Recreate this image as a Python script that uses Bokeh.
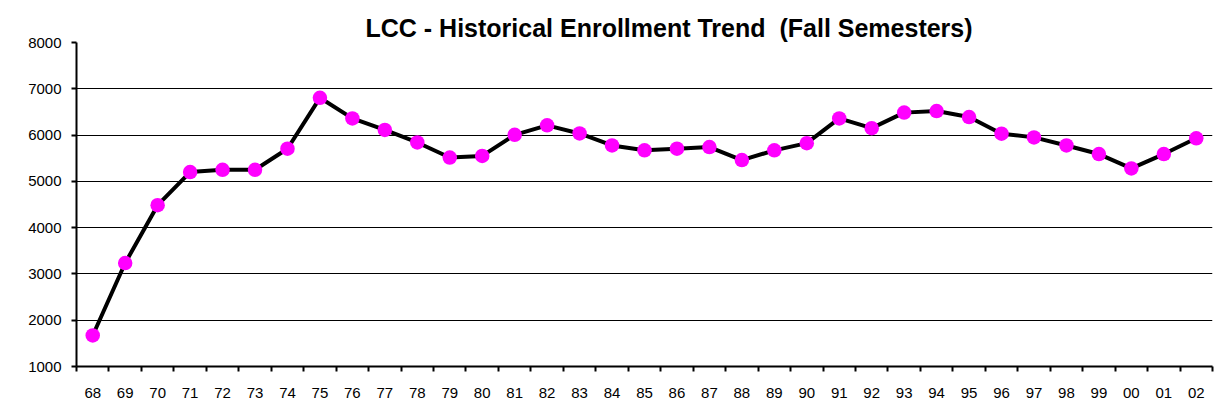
from bokeh.plotting import figure
from bokeh.models import FixedTicker, Range1d, Title
from bokeh.embed import file_html
from bokeh.resources import INLINE

years = ["68", "69", "70", "71", "72", "73", "74", "75", "76", "77", "78", "79",
         "80", "81", "82", "83", "84", "85", "86", "87", "88", "89", "90", "91",
         "92", "93", "94", "95", "96", "97", "98", "99", "00", "01", "02"]
enrollment = [1670, 3235, 4485, 5200, 5250, 5250, 5705, 6805, 6360, 6110, 5840, 5515,
              5550, 6005, 6210, 6035, 5775, 5670, 5705, 5740, 5460, 5670, 5825, 6360,
              6150, 6485, 6520, 6390, 6030, 5950, 5775, 5590, 5280, 5590, 5930]
y_ticks = [1000, 2000, 3000, 4000, 5000, 6000, 7000, 8000]
grid_ticks = [2000, 3000, 4000, 5000, 6000, 7000]
title_text = "LCC - Historical Enrollment Trend \u00a0(Fall Semesters)"

xs = list(range(len(years)))
n = len(years)

p = figure(width=1217, height=412, output_backend="svg", toolbar_location=None,
           x_range=Range1d(-0.5, n - 0.5), y_range=Range1d(1000, 8000),
           min_border_left=76, min_border_right=5, min_border_top=42,
           min_border_bottom=46)
p.outline_line_color = None
p.background_fill_color = "white"
p.border_fill_color = "white"

t = Title(text=title_text, text_font="Liberation Sans", text_font_size="25px",
          text_font_style="bold", align="left", offset=289, standoff=2,
          text_color="black")
p.add_layout(t, "above")

p.line(xs, enrollment, line_color="black", line_width=4)
p.scatter(xs, enrollment, size=14.5, fill_color="#FF00FF", line_color=None)

# x axis: labels at category centres, tick marks between categories
p.xaxis.ticker = FixedTicker(ticks=xs, minor_ticks=[i - 0.5 for i in range(n + 1)])
p.xaxis.major_label_overrides = {i: y for i, y in enumerate(years)}
p.xaxis.major_tick_out = 0
p.xaxis.major_tick_in = 0
p.xaxis.minor_tick_out = 5
p.xaxis.minor_tick_in = 0
p.xaxis.minor_tick_line_color = "black"
p.xaxis.minor_tick_line_width = 2
p.xaxis.major_label_standoff = 16
p.xaxis.axis_line_color = "black"
p.xaxis.axis_line_width = 2
p.xaxis.major_label_text_font = "Liberation Sans"
p.xaxis.major_label_text_font_size = "15px"
p.xaxis.major_label_text_color = "black"

# y axis
p.yaxis.ticker = FixedTicker(ticks=y_ticks)
p.yaxis.major_tick_out = 5
p.yaxis.major_tick_in = 0
p.yaxis.major_tick_line_width = 2
p.yaxis.major_tick_line_color = "black"
p.yaxis.minor_tick_line_color = None
p.yaxis.axis_line_color = "black"
p.yaxis.axis_line_width = 2
p.yaxis.major_label_standoff = 10
p.yaxis.major_label_text_font = "Liberation Sans"
p.yaxis.major_label_text_font_size = "15px"
p.yaxis.major_label_text_color = "black"

p.xgrid.grid_line_color = None
p.ygrid.ticker = FixedTicker(ticks=grid_ticks)
p.ygrid.grid_line_color = "black"
p.ygrid.grid_line_width = 1

open("out.html", "w").write(file_html(p, INLINE))
